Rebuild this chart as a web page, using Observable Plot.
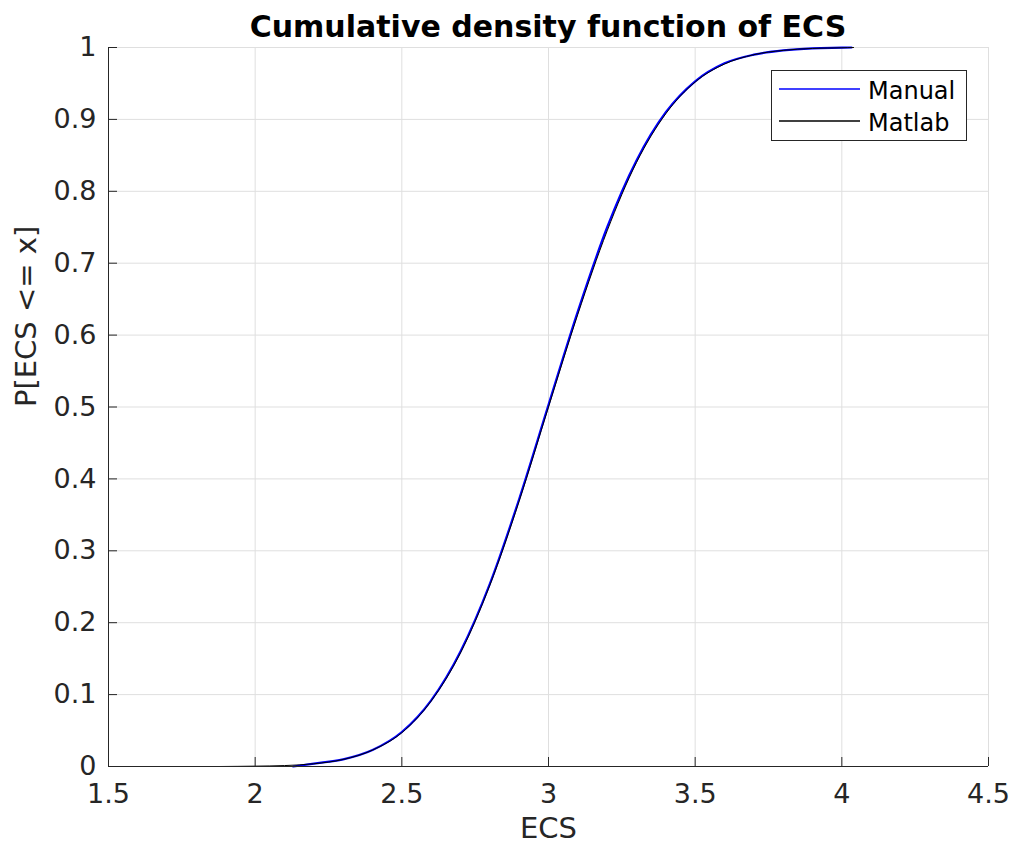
<!DOCTYPE html>
<html>
<head>
<meta charset="utf-8">
<script src="https://cdn.jsdelivr.net/npm/d3@7"></script>
<script src="https://cdn.jsdelivr.net/npm/@observablehq/plot@0.6"></script>
<style>
  html, body { margin: 0; padding: 0; background: #fff; }
  #wrap { position: relative; width: 1011px; height: 845px; font-family: "DejaVu Sans", sans-serif; }
  #title { position: absolute; top: 12px; left: 0; width: 1096px; text-align: center;
           font: bold 30px/29px "DejaVu Sans", sans-serif; color: #000; }
  #legend { position: absolute; left: 771px; top: 70px; }
</style>
</head>
<body>
<div id="wrap">
  <div id="chart"></div>
  <div id="title">Cumulative density function of ECS</div>
  <div id="legend"></div>
</div>
<script>
// ---- data ----
const titleText = "Cumulative density function of ECS";
const xLabel = "ECS";
const yLabel = "P[ECS <= x]";
const seriesNames = ["Manual", "Matlab"];
const seriesColors = ["#0000ff", "#000000"];

const xTicks = [1.5, 2, 2.5, 3, 3.5, 4, 4.5];
const yTicks = [0, 0.1, 0.2, 0.3, 0.4, 0.5, 0.6, 0.7, 0.8, 0.9, 1];

const manualX = [2.13, 2.2, 2.3, 2.4, 2.5, 2.6, 2.7, 2.8, 2.9, 3.0, 3.1, 3.2, 3.3, 3.4, 3.5, 3.6, 3.7, 3.8, 3.9, 4.0, 4.033];
const manualY = [0, 0.004, 0.010, 0.023, 0.048, 0.092, 0.160, 0.254, 0.372, 0.503, 0.633, 0.750, 0.843, 0.910, 0.953, 0.978, 0.990, 0.996, 0.9988, 0.9997, 1.0];

const matlabX = [1.88, 2.0, 2.1, 2.2, 2.3, 2.4, 2.5, 2.6, 2.7, 2.8, 2.9, 3.0, 3.1, 3.2, 3.3, 3.4, 3.5, 3.6, 3.7, 3.8, 3.9, 4.0, 4.04];
const matlabY = [0, 0.0005, 0.0013, 0.0038, 0.0098, 0.0228, 0.047, 0.091, 0.158, 0.252, 0.369, 0.500, 0.629, 0.745, 0.840, 0.908, 0.952, 0.977, 0.990, 0.996, 0.9987, 0.9996, 1.0];

const manual = manualX.map((x, i) => ({x, y: manualY[i]}));
const matlab = matlabX.map((x, i) => ({x, y: matlabY[i]}));

const W = 1011, H = 845;
const mTop = 47, mRight = 23, mBottom = 79, mLeft = 108;
const innerW = W - mLeft - mRight, innerH = H - mTop - mBottom;
const axisColor = "#262626", gridColor = "#dfdfdf";

const chart = Plot.plot({
  width: W, height: H,
  marginTop: mTop, marginRight: mRight, marginBottom: mBottom, marginLeft: mLeft,
  style: { fontFamily: "DejaVu Sans, sans-serif", background: "#fff", overflow: "visible" },
  x: { domain: [1.5, 4.5] },
  y: { domain: [0, 1] },
  marks: [
    Plot.gridX(xTicks, { stroke: gridColor, strokeOpacity: 1 }),
    Plot.gridY(yTicks, { stroke: gridColor, strokeOpacity: 1 }),
    Plot.line(manual, { x: "x", y: "y", stroke: seriesColors[0], strokeWidth: 2.2, curve: "monotone-x" }),
    Plot.line(matlab, { x: "x", y: "y", stroke: seriesColors[1], strokeWidth: 1, curve: "monotone-x" }),
    Plot.ruleX([1.5], { stroke: axisColor }),
    Plot.ruleY([0], { stroke: axisColor }),
    Plot.tickX(xTicks, { x: d => d, stroke: axisColor, insetTop: innerH - 9 }),
    Plot.tickY(yTicks, { y: d => d, stroke: axisColor, insetRight: innerW - 9 }),
    Plot.axisX(xTicks, { tickSize: 0, tickPadding: 17, fontSize: 27, fill: axisColor, label: null, tickFormat: d => String(d) }),
    Plot.axisY(yTicks, { tickSize: 0, tickPadding: 12, fontSize: 27, fill: axisColor, label: null, tickFormat: d => String(d) }),
    Plot.text([xLabel], { frameAnchor: "bottom", dy: 71, lineAnchor: "bottom", fontSize: 29, fill: axisColor }),
    Plot.text([yLabel], { frameAnchor: "left", dx: -82, rotate: -90, lineAnchor: "middle", fontSize: 29, fill: axisColor })
  ]
});
document.getElementById("chart").appendChild(chart);
document.getElementById("title").textContent = titleText;

// legend
const lg = d3.select("#legend").append("svg").attr("width", 196).attr("height", 71)
  .style("font-family", "DejaVu Sans, sans-serif");
lg.append("rect").attr("x", 0.5).attr("y", 0.5).attr("width", 195).attr("height", 70)
  .attr("fill", "#fff").attr("stroke", axisColor);
seriesNames.forEach((name, i) => {
  const yy = 19 + i * 32;
  lg.append("line").attr("x1", 8).attr("x2", 89).attr("y1", yy).attr("y2", yy)
    .attr("stroke", seriesColors[i]).attr("stroke-width", 1.5);
  lg.append("text").attr("x", 97).attr("y", yy + 10).attr("font-size", 24)
    .attr("fill", "#000").text(name);
});
</script>
</body>
</html>
